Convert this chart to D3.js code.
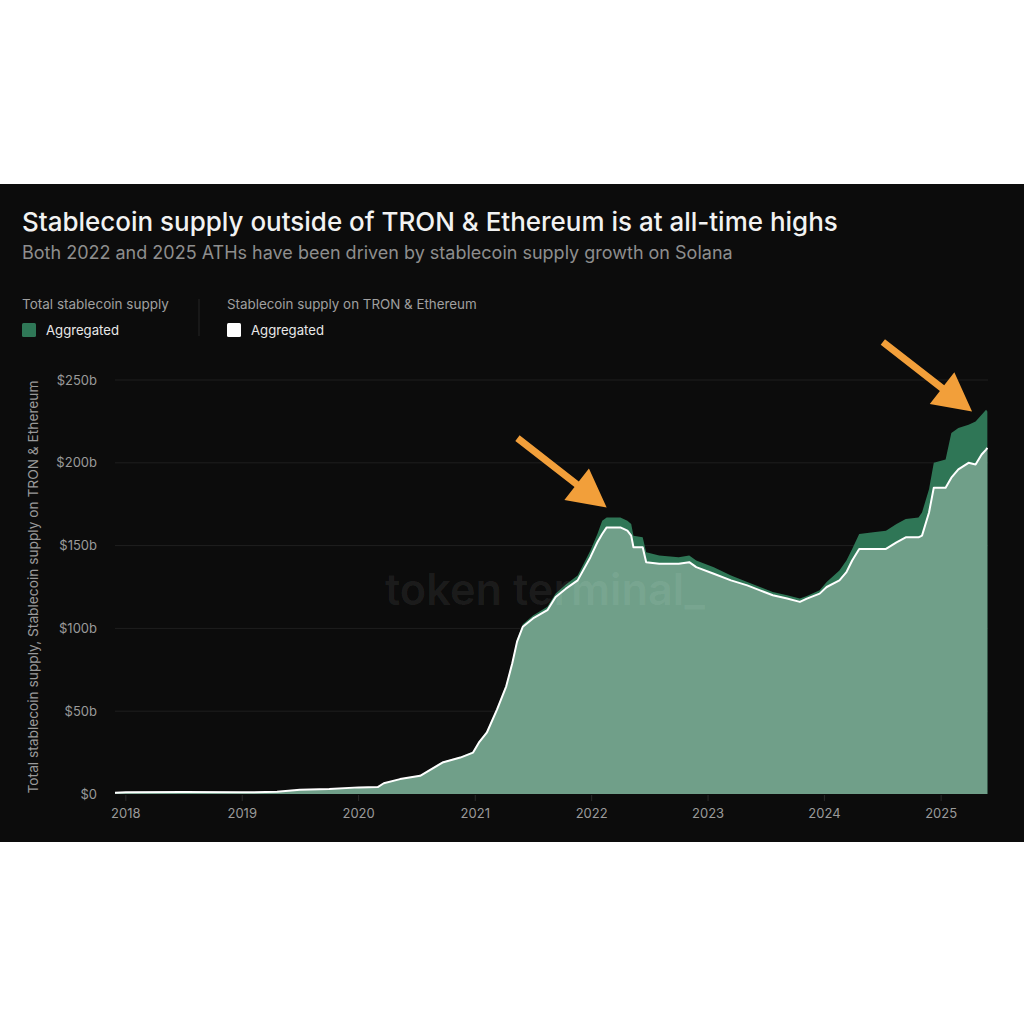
<!DOCTYPE html>
<html><head><meta charset="utf-8">
<script src="https://cdn.jsdelivr.net/npm/d3@7"></script>
<style>html,body{margin:0;padding:0;background:#fff;} svg{display:block;}</style>
</head><body>
<svg id="c" width="1024" height="1024"></svg>
<script>
// ---- data ----
const dates = ["2017-11-28","2018-01-01","2018-07-01","2019-01-01","2019-04-20","2019-07-01","2019-10-01","2020-01-01","2020-03-01","2020-03-20","2020-05-10","2020-07-12","2020-09-20","2020-11-15","2020-12-25","2021-01-12","2021-02-06","2021-03-10","2021-04-08","2021-04-27","2021-05-12","2021-05-30","2021-07-01","2021-08-15","2021-09-10","2021-10-12","2021-11-18","2021-12-28","2022-01-19","2022-02-03","2022-02-17","2022-04-01","2022-04-23","2022-05-05","2022-05-12","2022-06-10","2022-06-21","2022-08-01","2022-10-01","2022-11-03","2022-11-25","2023-01-19","2023-03-14","2023-05-04","2023-06-13","2023-07-23","2023-09-06","2023-10-16","2023-11-07","2023-12-17","2024-01-08","2024-02-17","2024-03-10","2024-03-28","2024-04-19","2024-06-02","2024-07-12","2024-08-14","2024-09-12","2024-10-22","2024-11-02","2024-11-24","2024-12-09","2025-01-15","2025-02-02","2025-02-24","2025-03-28","2025-04-19","2025-05-08","2025-05-22","2025-05-26"];
const tronEthSupply = [0.8,1.0,1.2,1.0,1.3,2.5,3.0,4.0,4.2,6.5,9,11,19,22,25,31,37,51,65,79,92,101,106,111,119,124,129,143,152,157,161,161,159,156,149,149,140,139,139,140,137,133,129,126,123,120,118,116,118,121,125,129,134,141,148,148,148,152,155,155,156,170,185,185,191,196,200,199,205,208,209];
const totalSupply = [0.8,1.0,1.2,1.0,1.3,2.5,3.0,4.0,4.3,6.6,9.2,11.3,19.5,22.5,25.6,31.8,38,52,66.2,80.3,93.5,102.5,107.8,113,121,126.5,132,147,157,165,167,167,165,163,156,155,146,144,143,144,141,137,132,128,125,122,120,118,119.5,123,128,135,141,148,157,158,159,163,166,167,170,184,200,202,218,221,223,225,229,232,231];
const yTickValues = [0,50,100,150,200,250];
const yTickLabels = ["$0","$50b","$100b","$150b","$200b","$250b"];
const xTickYears = [2018,2019,2020,2021,2022,2023,2024,2025];
const arrowTips = [{date:"2022-02-17", value:173},{date:"2025-04-08", value:231}];

const title = "Stablecoin supply outside of TRON & Ethereum is at all-time highs";
const subtitle = "Both 2022 and 2025 ATHs have been driven by stablecoin supply growth on Solana";
const legendGroups = [{header:"Total stablecoin supply", label:"Aggregated", color:"#2f7857"},
                      {header:"Stablecoin supply on TRON & Ethereum", label:"Aggregated", color:"#ffffff"}];
const yTitle = "Total stablecoin supply, Stablecoin supply on TRON & Ethereum";

// ---- drawing ----
const parse = d3.timeParse("%Y-%m-%d");
const rows = dates.map((d,i)=>({date:parse(d), te:tronEthSupply[i], tot:totalSupply[i]}));
const svg = d3.select("#c");
const FONT = "Inter, 'Noto Sans', sans-serif";

function fit(sel, w){ const cur = sel.node().getComputedTextLength(); const fs = parseFloat(sel.attr("font-size")); sel.attr("font-size", fs*w/cur); return sel; }

svg.append("rect").attr("x",0).attr("y",184).attr("width",1024).attr("height",658).attr("fill","#0c0c0c");

const x = d3.scaleTime().domain([parse("2017-11-28"), parse("2025-05-28")]).range([115, 988]);
const y = d3.scaleLinear().domain([0,250]).range([794,380]);

// title
fit(svg.append("text").attr("x",22).attr("y",231).attr("font-family",FONT).attr("font-size",26).attr("font-weight",500)
  .attr("fill","#f2f2f2").text(title), 816);
fit(svg.append("text").attr("x",22).attr("y",259).attr("font-family",FONT).attr("font-size",17)
  .attr("fill","#8e8e8e").text(subtitle), 711);

// legend
const lgX = [22, 227];
legendGroups.forEach((g,i)=>{
  const gx = lgX[i];
  fit(svg.append("text").attr("x",gx).attr("y",309).attr("font-family",FONT).attr("font-size",13)
     .attr("fill","#a0a0a0").text(g.header), i===0?147:250);
  svg.append("rect").attr("x",gx).attr("y",323).attr("width",14).attr("height",14).attr("rx",1.5).attr("fill",g.color);
  fit(svg.append("text").attr("x",gx+24).attr("y",335).attr("font-family",FONT).attr("font-size",13)
     .attr("fill","#e8e8e8").text(g.label), 73);
});
svg.append("line").attr("x1",199).attr("x2",199).attr("y1",299).attr("y2",336).attr("stroke","#242424");

// grid
svg.append("g").selectAll("line").data(yTickValues.filter(v=>v>0)).join("line")
  .attr("x1",115).attr("x2",988).attr("y1",d=>y(d)).attr("y2",d=>y(d)).attr("stroke","#1f1f1f");

// y labels
svg.append("g").selectAll("text").data(yTickValues).join("text")
  .attr("x",97).attr("y",d=>y(d)).attr("dy","0.35em").attr("text-anchor","end")
  .attr("font-family",FONT).attr("font-size",13).attr("fill","#9a9a9a").text((d,i)=>yTickLabels[i]);

const yt = svg.append("text").attr("transform","translate(33,587) rotate(-90)").attr("text-anchor","middle")
  .attr("dy","0.35em").attr("font-family",FONT).attr("font-size",13).attr("fill","#9a9a9a").text(yTitle);
fit(yt, 413);

// x axis
const xticks = xTickYears.map(yv=>new Date(yv,0,1));
svg.append("g").selectAll("line").data(xticks).join("line")
  .attr("x1",d=>x(d)).attr("x2",d=>x(d)).attr("y1",795).attr("y2",801).attr("stroke","#2a2a2a");
svg.append("g").selectAll("text").data(xticks).join("text")
  .attr("x",d=>x(d)).attr("y",818).attr("text-anchor","middle")
  .attr("font-family",FONT).attr("font-size",13).attr("fill","#9a9a9a").text(d=>d.getFullYear());

// areas
const areaTot = d3.area().x(d=>x(d.date)).y0(y(0)).y1(d=>y(d.tot));
const areaTe = d3.area().x(d=>x(d.date)).y0(y(0)).y1(d=>y(d.te));
const lineTe = d3.line().x(d=>x(d.date)).y(d=>y(d.te));
svg.append("path").datum(rows).attr("d",areaTot).attr("fill","#2f7656");
svg.append("path").datum(rows).attr("d",areaTe).attr("fill","#709f89");
svg.append("path").datum(rows).attr("d",lineTe).attr("fill","none").attr("stroke","#ffffff").attr("stroke-width",2).attr("stroke-linejoin","round");

// watermark
fit(svg.append("text").attr("x",385).attr("y",605).attr("font-family",FONT).attr("font-size",44).attr("font-weight",600)
  .attr("fill","#ffffff").attr("fill-opacity",0.07).text("token terminal_"), 320);

// arrows
arrowTips.forEach(a=>{
  const tx = x(parse(a.date)), ty = y(a.value);
  const L = 113, dxn = 90/114, dyn = 70/114;
  const sx = tx - dxn*L, sy = ty - dyn*L;
  const hl = 38, hw = 20, sw = 3.5;
  const bx = tx - dxn*hl, by = ty - dyn*hl;
  const px = -dyn, py = dxn;
  const pts = [[sx+px*sw, sy+py*sw],[bx+px*sw, by+py*sw],[bx+px*hw, by+py*hw],[tx,ty],[bx-px*hw, by-py*hw],[bx-px*sw, by-py*sw],[sx-px*sw, sy-py*sw]];
  svg.append("polygon").attr("points", pts.map(p=>p.join(",")).join(" ")).attr("fill","#f29f3a");
});
</script>
</body></html>
